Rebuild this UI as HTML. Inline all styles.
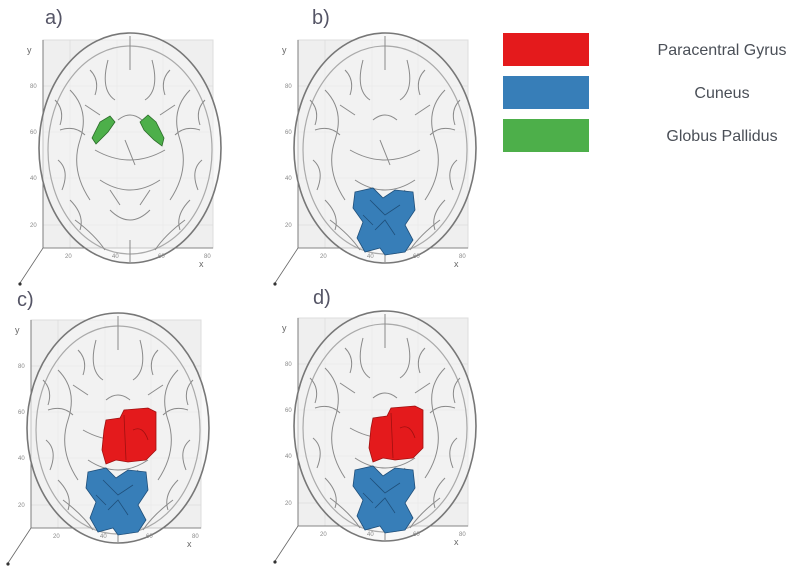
<!DOCTYPE html>
<html><head><meta charset="utf-8"><style>
html,body{margin:0;padding:0;background:#fff;}
svg{display:block;font-family:"Liberation Sans",sans-serif;}
</style></head><body>
<svg width="800" height="574" viewBox="0 0 800 574" xmlns="http://www.w3.org/2000/svg">
<defs>
<g id="frame">
  <rect x="43" y="40" width="170" height="208" fill="#efefef" stroke="#ddd"/>
  <g stroke="#dcdcdc" stroke-width="0.8">
    <line x1="43" y1="86" x2="213" y2="86"/><line x1="43" y1="132" x2="213" y2="132"/>
    <line x1="43" y1="178" x2="213" y2="178"/><line x1="43" y1="225" x2="213" y2="225"/>
    <line x1="70" y1="40" x2="70" y2="248"/><line x1="117" y1="40" x2="117" y2="248"/>
    <line x1="163" y1="40" x2="163" y2="248"/>
  </g>
  <g stroke="#666" stroke-width="0.8" fill="none">
    <line x1="43" y1="40" x2="43" y2="248"/><line x1="43" y1="248" x2="213" y2="248"/>
    <line x1="43" y1="248" x2="20" y2="283"/>
  </g>
  <circle cx="20" cy="284" r="1.6" fill="#333"/>
  <ellipse cx="130" cy="148" rx="91" ry="115" fill="#f4f4f4" fill-opacity="0.6" stroke="#777" stroke-width="1.6"/>
  <ellipse cx="130" cy="150" rx="82" ry="104" fill="none" stroke="#aaa" stroke-width="1.2"/>
  <g fill="none" stroke="#8a8a8a" stroke-width="1">
    <path d="M130 36 L130 70 M108 60 Q100 90 115 100 M152 60 Q160 90 145 100"/>
    <path d="M70 90 Q90 110 80 140 Q70 170 90 200 M190 90 Q170 110 180 140 Q190 170 170 200"/>
    <path d="M95 150 Q130 170 165 150 M100 180 Q130 200 160 180 M110 210 Q130 230 150 210"/>
    <path d="M60 130 Q75 125 85 135 M200 130 Q185 125 175 135 M75 220 Q95 235 105 250 M185 220 Q165 235 155 250"/>
    <path d="M118 120 Q130 110 142 120 M125 140 L135 165 M130 240 L130 262"/>
    <path d="M55 100 Q65 110 60 125 M205 100 Q195 110 200 125 M58 160 Q70 170 62 190 M202 160 Q190 170 198 190"/>
    <path d="M90 70 Q100 80 95 95 M170 70 Q160 80 165 95 M85 105 L100 115 M175 105 L160 115"/>
    <path d="M70 200 Q85 215 80 230 M190 200 Q175 215 180 230 M110 190 L120 205 M150 190 L140 205"/>
  </g>
  <g font-size="6" fill="#888">
    <text x="30" y="88">80</text><text x="30" y="134">60</text><text x="30" y="180">40</text><text x="30" y="227">20</text>
    <text x="65" y="258">20</text><text x="112" y="258">40</text><text x="158" y="258">60</text><text x="204" y="258">80</text>
  </g>
  <text x="27" y="53" font-size="9" fill="#666">y</text>
  <text x="199" y="267" font-size="9" fill="#666">x</text>
</g>
<g id="cun">
  <path d="M100 192 L118 188 L128 198 L140 190 L158 192 L160 210 L150 225 L158 240 L150 252 L130 255 L125 248 L110 252 L102 238 L108 222 L98 208 Z" fill="#377eb8" stroke="#1f4f7a" stroke-width="0.8"/>
  <path d="M115 200 L130 215 L145 205 M120 230 L130 220 L140 235 M108 215 L118 225" fill="none" stroke="#1f4f7a" stroke-width="0.8"/>
</g>
<g id="para">
  <path d="M118 140 L132 138 L136 130 L160 128 L168 132 L168 170 L158 180 L140 182 L128 180 L118 184 L114 170 L116 150 Z" fill="#e41a1c" stroke="#a01010" stroke-width="0.8"/>
  <path d="M136 135 L138 180 M145 150 Q155 145 160 160" fill="none" stroke="#a01010" stroke-width="0.8"/>
</g>
</defs>

<use href="#frame" x="0" y="0"/>
<path d="M92 138 L100 122 L110 116 L115 122 L108 132 L96 144 Z" fill="#4daf4a" stroke="#2a6a28" stroke-width="0.8"/>
<path d="M140 122 L148 115 L156 122 L164 138 L162 146 L154 140 L144 130 Z" fill="#4daf4a" stroke="#2a6a28" stroke-width="0.8"/>
<text x="45" y="24" font-size="20" fill="#556">a)</text>

<use href="#frame" x="255" y="0"/>
<use href="#cun" x="255" y="0"/>
<text x="312" y="24" font-size="20" fill="#556">b)</text>

<use href="#frame" x="-12" y="280"/>
<use href="#para" x="-12" y="280"/>
<use href="#cun" x="-12" y="280"/>
<text x="17" y="306" font-size="20" fill="#556">c)</text>

<use href="#frame" x="255" y="278"/>
<use href="#para" x="255" y="278"/>
<use href="#cun" x="255" y="278"/>
<text x="313" y="304" font-size="20" fill="#556">d)</text>

<rect x="503" y="33" width="86" height="33" fill="#e41a1c"/>
<rect x="503" y="76" width="86" height="33" fill="#377eb8"/>
<rect x="503" y="119" width="86" height="33" fill="#4daf4a"/>
<g font-size="16" fill="#4a4f57" text-anchor="middle">
  <text x="722" y="55">Paracentral Gyrus</text>
  <text x="722" y="98">Cuneus</text>
  <text x="722" y="141">Globus Pallidus</text>
</g>
</svg>
</body></html>
